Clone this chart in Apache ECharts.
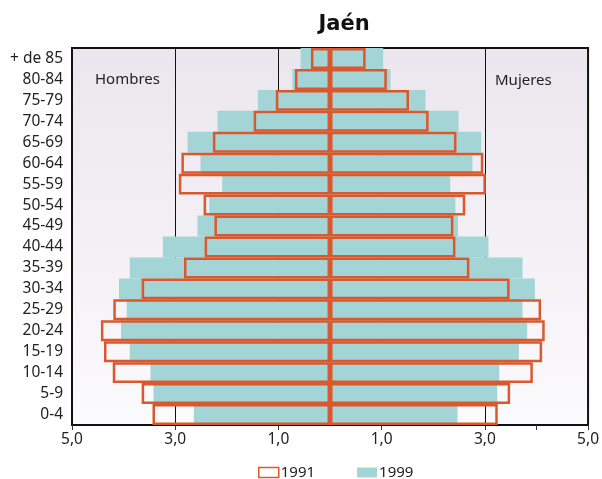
<!DOCTYPE html>
<html>
<head>
<meta charset="utf-8">
<script src="https://cdn.jsdelivr.net/npm/echarts@6/dist/echarts.min.js"></script>
<style>html,body{margin:0;padding:0;background:#fff}#c{width:602px;height:479px}</style>
</head>
<body>
<div id="c"></div>
<script>
const categories = ['0-4','5-9','10-14','15-19','20-24','25-29','30-34','35-39','40-44','45-49','50-54','55-59','60-64','65-69','70-74','75-79','80-84','+ de 85'];
// values in %, men negative (left), women positive (right); order bottom (0-4) to top (+ de 85)
const men1991   = [-3.44,-3.65,-4.21,-4.38,-4.44,-4.20,-3.65,-2.83,-2.43,-2.24,-2.45,-2.93,-2.88,-2.27,-1.48,-1.05,-0.68,-0.37];
const women1991 = [ 3.25, 3.49, 3.93, 4.11, 4.16, 4.09, 3.48, 2.70, 2.43, 2.39, 2.62, 3.02, 2.97, 2.45, 1.91, 1.53, 1.10, 0.69];
const men1999   = [-2.64,-3.42,-3.48,-3.88,-4.05,-3.94,-4.09,-3.88,-3.24,-2.57,-2.34,-2.09,-2.51,-2.76,-2.18,-1.40,-0.73,-0.57];
const women1999 = [ 2.47, 3.24, 3.28, 3.66, 3.82, 3.73, 3.97, 3.73, 3.07, 2.48, 2.43, 2.33, 2.76, 2.93, 2.49, 1.85, 1.17, 1.03];
const xLabelValues = [-5,-3,-1,1,3,5];
const xTickValues = [-5,-3,-1,1,3,4,5];
const gridValues = [-3,-1,1,3];

const ORANGE = '#d9582e';
const TEAL = '#a4d5d6';
const FONT = 'Noto Sans';

const chart = echarts.init(document.getElementById('c'), null, {renderer: 'canvas'});
const outline = {color: 'rgba(0,0,0,0)', borderColor: ORANGE, borderWidth: 2.5};
chart.setOption({
  animation: false,
  textStyle: {fontFamily: FONT},
  title: {
    text: 'Jaén', left: 339, top: 9, textAlign: 'center',
    textStyle: {fontFamily: 'DejaVu Sans', fontSize: 21, fontWeight: 'bold', color: '#111'}
  },
  legend: {
    top: 465, left: 258, padding: 0,
    itemWidth: 20, itemHeight: 10, itemGap: 42,
    textStyle: {fontFamily: FONT, fontSize: 15, color: '#222', padding: [0,0,0,-3]},
    data: [
      {name: '1991', icon: 'rect', itemStyle: {color: '#fff', borderColor: ORANGE, borderWidth: 1.5}},
      {name: '1999', icon: 'rect', itemStyle: {color: TEAL}}
    ]
  },
  grid: {
    left: 72, right: 12, top: 48, bottom: 54,
    show: true, borderColor: '#111', borderWidth: 2,
    backgroundColor: {type: 'linear', x: 0, y: 0, x2: 0, y2: 1,
      colorStops: [{offset: 0, color: '#ebe6ed'}, {offset: 1, color: '#fbfafc'}]}
  },
  xAxis: {
    type: 'value', min: -5, max: 5,
    axisLine: {show: false},
    axisTick: {show: true, length: 5, customValues: xTickValues, lineStyle: {color: '#333'}},
    splitLine: {show: false},
    axisLabel: {
      customValues: xLabelValues, margin: 7,
      fontFamily: FONT, fontSize: 15.5, color: '#222',
      formatter: v => Math.abs(v).toFixed(1).replace('.', ',')
    }
  },
  yAxis: {
    type: 'category', data: categories,
    axisLine: {show: false}, axisTick: {show: false},
    axisLabel: {fontFamily: FONT, fontSize: 15.5, color: '#222', margin: 9}
  },
  graphic: [
    {type: 'text', left: 95, top: 72, style: {text: 'Hombres', fontFamily: FONT, fontSize: 15, fill: '#222'}},
    {type: 'text', left: 495, top: 73, style: {text: 'Mujeres', fontFamily: FONT, fontSize: 15, fill: '#222'}}
  ],
  series: [
    {type: 'bar', name: 'grid', data: [], z: 1,
     markLine: {silent: true, symbol: 'none', z: 1, label: {show: false},
       lineStyle: {color: '#111', width: 1, type: 'solid'},
       data: gridValues.map(v => ({xAxis: v}))}},
    {type: 'bar', name: '1999', data: men1999, barGap: '-100%', barCategoryGap: '0%', z: 3, itemStyle: {color: TEAL}},
    {type: 'bar', name: '1999', data: women1999, barGap: '-100%', barCategoryGap: '0%', z: 3, itemStyle: {color: TEAL}},
    {type: 'bar', name: '1991', data: men1991, barGap: '-100%', barCategoryGap: '0%', z: 4, itemStyle: outline},
    {type: 'bar', name: '1991', data: women1991, barGap: '-100%', barCategoryGap: '0%', z: 4, itemStyle: outline}
  ]
});
</script>
</body>
</html>
